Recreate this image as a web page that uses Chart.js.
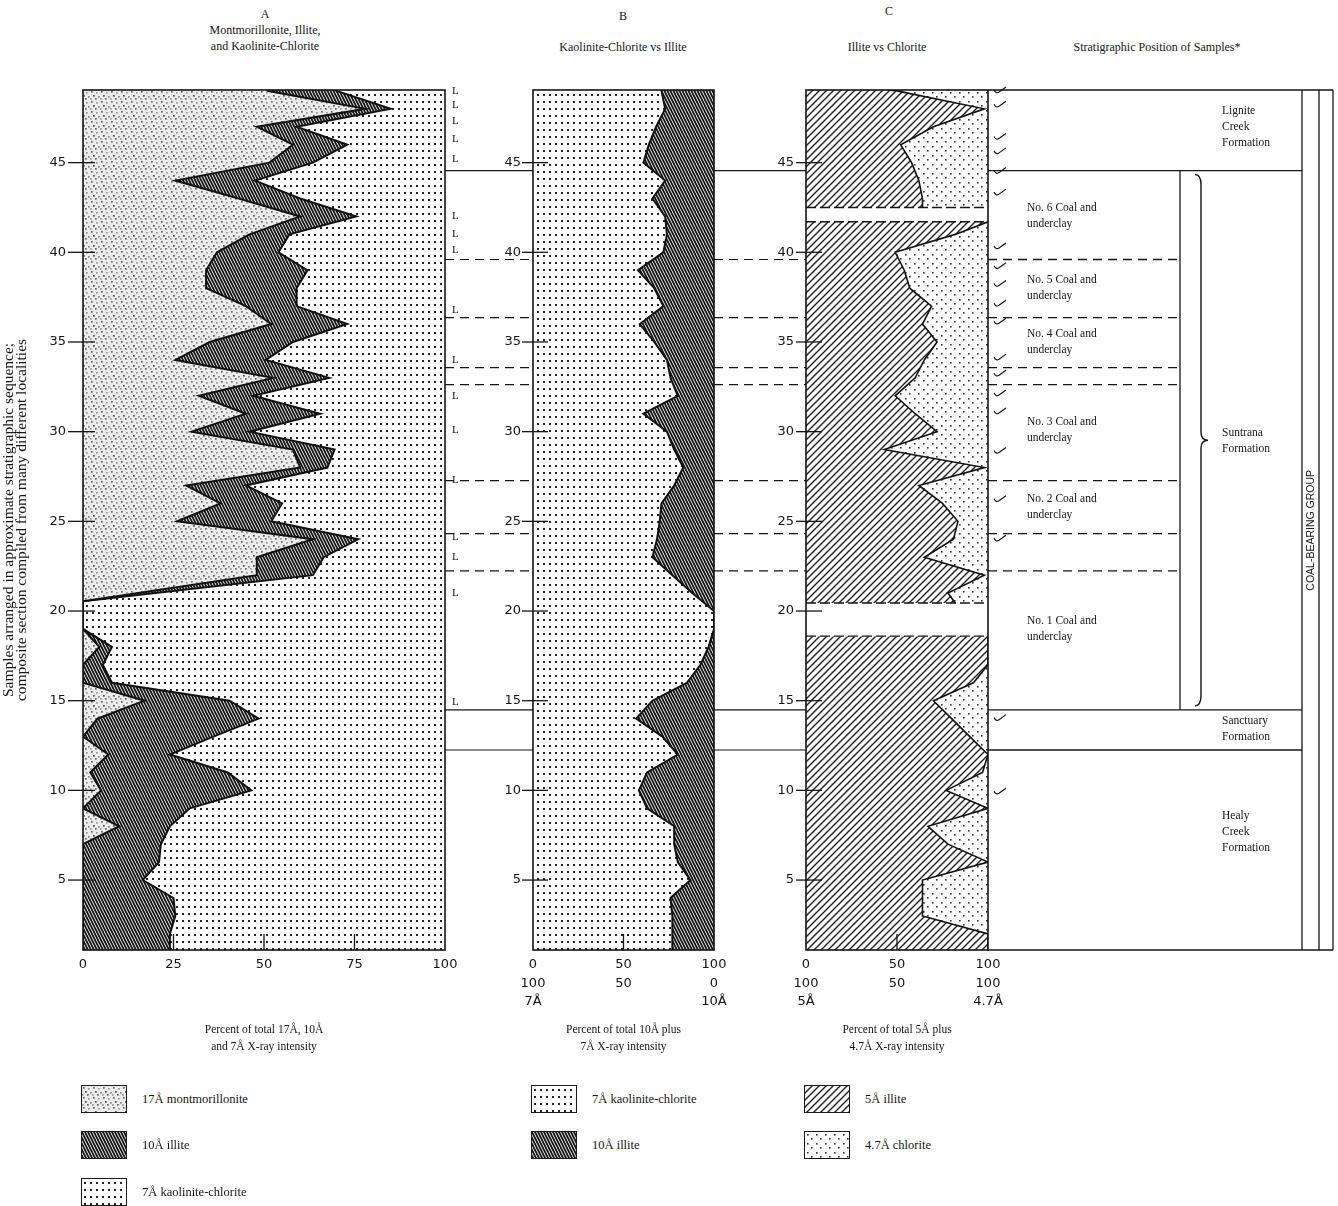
<!DOCTYPE html>
<html>
<head>
<meta charset="utf-8">
<title>Clay minerals vs stratigraphic position of samples</title>
<script src="https://cdn.jsdelivr.net/npm/chart.js@4.4.1/dist/chart.umd.min.js"></script>
<style>
  html, body { margin:0; padding:0; background:#fff; }
  body { width:1338px; height:1206px; position:relative; overflow:hidden; font-family:"Liberation Serif", serif; color:#151515; }
  .cv { position:absolute; top:0; }
  .ttl { position:absolute; transform:translateX(-50%); text-align:center; font-size:12px; line-height:16px; white-space:nowrap; }
  .leg { position:absolute; height:30px; display:flex; align-items:center; font-size:12.5px; white-space:nowrap; }
  .leg canvas { border:1.5px solid #1a1a1a; margin-right:15px; display:block; }
</style>
</head>
<body>
<div class="ttl" style="left:265px;top:6px">A<br>Montmorillonite, Illite,<br>and Kaolinite-Chlorite</div>
<div class="ttl" style="left:623px;top:8px">B</div>
<div class="ttl" style="left:623px;top:39px">Kaolinite-Chlorite vs Illite</div>
<div class="ttl" style="left:889px;top:3px">C</div>
<div class="ttl" style="left:887px;top:39px">Illite vs Chlorite</div>
<div class="ttl" style="left:1157px;top:39px">Stratigraphic Position of Samples*</div>

<div class="leg" style="left:81px;top:1084px"><canvas id="lg1" width="44" height="26"></canvas><span>17Å montmorillonite</span></div>
<div class="leg" style="left:81px;top:1130px"><canvas id="lg2" width="44" height="26"></canvas><span>10Å illite</span></div>
<div class="leg" style="left:81px;top:1177px"><canvas id="lg3" width="44" height="26"></canvas><span>7Å kaolinite-chlorite</span></div>
<div class="leg" style="left:531px;top:1084px"><canvas id="lg4" width="44" height="26"></canvas><span>7Å kaolinite-chlorite</span></div>
<div class="leg" style="left:531px;top:1130px"><canvas id="lg5" width="44" height="26"></canvas><span>10Å illite</span></div>
<div class="leg" style="left:804px;top:1084px"><canvas id="lg6" width="44" height="26"></canvas><span>5Å illite</span></div>
<div class="leg" style="left:804px;top:1130px"><canvas id="lg7" width="44" height="26"></canvas><span>4.7Å chlorite</span></div>

<script>
// ---------------- DATA ----------------
const Y_MIN = 1.1, Y_MAX = 49.05;
const yTicks = [5, 10, 15, 20, 25, 30, 35, 40, 45];
const xTicksA = [0, 25, 50, 75, 100];
const xTicksBC = [0, 50, 100];
const xLabelsA = ['0', '25', '50', '75', '100'];
const xLabelsB = [['0', '100', '7Å'], ['50', '50', ''], ['100', '0', '10Å']];
const xLabelsC = [['0', '100', '5Å'], ['50', '50', ''], ['100', '100', '4.7Å']];

// Panel A: percent of total 17Å, 10Å and 7Å intensity (kaolinite-chlorite = remainder)
const samplesA = [1.1, 2, 3, 4, 5, 6, 7, 8, 9, 10,
                  11, 12, 13, 14, 15, 16, 17, 18, 19, 20,
                  20.55,
                  22, 23, 24, 25, 26, 27, 28, 29, 30, 31,
                  32, 33, 34, 35, 36, 37, 38, 39, 40, 41,
                  42, 43, 44, 45, 46, 47, 48, 49,
                  49.05];
const montA =   [0, 0, 0, 0, 0, 0, 0, 10, 0, 5,
                 2, 7, 0, 4, 17, 0, 0, 4.5, 0, 0,
                 0,
                 48, 48, 63.5, 26, 38, 28.5, 60, 58, 30, 45,
                 32, 52.5, 25.5, 35, 52, 45, 34, 34, 37, 46,
                 60, 43, 25.5, 51.5, 58, 48, 78, 51,
                 51];
const illiteA = [24, 24, 25.5, 25, 16.5, 21, 21.5, 14, 29.5, 41.5,
                 38, 17, 36, 44.5, 23.5, 8, 5.5, 3.5, 0, 0,
                 0,
                 15.5, 18.5, 12.5, 26, 17, 16.5, 7.5, 11.5, 16, 20.5,
                 15, 15.5, 25, 23, 21, 14, 25, 28, 17, 11,
                 15.5, 17, 22, 12, 15, 11, 7, 19,
                 19];

// Panel B: kaolinite-chlorite percent of 10Å + 7Å (illite = remainder)
const samplesB = [1.1, 2, 3, 4, 5, 6, 7, 8, 9, 10,
                  11, 12, 13, 14, 15, 16, 17, 18, 19, 20,
                  21, 22, 23, 24, 25, 26, 27, 28, 29, 30,
                  31, 32, 33, 34, 35, 36, 37, 38, 39, 40,
                  41, 42, 43, 44, 45, 46, 47, 48, 49,
                  49.05];
const kaolB = [77, 77, 77, 76, 87, 80, 78, 78, 63, 58.5,
               63, 80, 71.5, 57, 66, 85, 92.5, 97, 100, 100,
               88, 77, 66, 68.5, 70, 71, 78, 83, 78, 74,
               61, 80, 76, 74, 67, 59, 72, 67, 58, 72,
               74, 73, 66, 73, 61, 64, 68, 73, 71,
               71.5];

// Panel C: illite (5Å) percent of 5Å + 4.7Å (chlorite = remainder); null = no samples
const samplesC = [1.1, 2, 3, 4, 5, 6, 7, 8, 9, 10,
                  11, 12, 13, 14, 15, 16, 17, 18,
                  18.6, 19.5, 20.45,
                  21, 22, 23, 24, 25, 26, 27, 28, 29, 30,
                  31, 32, 33, 34, 35, 36, 37, 38, 39, 40, 41,
                  41.7, 42.1, 42.5,
                  43, 44, 45, 46, 47, 48, 49,
                  49.05];
const illiteC = [100, 100, 64, 64, 64, 100, 78, 67, 100, 77,
                 97, 100, 90, 80, 70, 92, 100, 100,
                 100, null, 82,
                 78, 98, 65, 81, 83.5, 75, 62, 98, 43, 72,
                 60, 49, 60, 65, 72, 64, 69, 57, 54, 49, 82,
                 100, null, 64,
                 64, 62, 58, 52, 70, 98, 50,
                 45];
const gapEdgesC = [18.6, 20.45, 41.7, 42.5];

// Stratigraphic column
const formationBounds = [44.56, 14.49, 12.25];
const coalBounds = [39.6, 36.36, 33.57, 32.62, 27.27, 24.31, 22.24];
const suntranaRange = [44.56, 14.49];
const coalLabels = ['No. 6 Coal and', 'No. 5 Coal and', 'No. 4 Coal and', 'No. 3 Coal and', 'No. 2 Coal and', 'No. 1 Coal and'];
const coalLabelAt = [42.05, 38.0, 35.0, 30.1, 25.8, 19.0];
const formationLabels = [['Lignite', 'Creek', 'Formation'], ['Suntrana', 'Formation'], ['Sanctuary', 'Formation'], ['Healy', 'Creek', 'Formation']];
const formationLabelAt = [47.0, 29.5, 13.4, 7.7];
const groupLabel = 'COAL-BEARING GROUP';
const groupLabelAt = 24.5;
const ligniteMarks = [49, 48.2, 47.3, 46.3, 45.2, 42, 41, 40.1, 36.8, 34, 32, 30.1, 27.3, 24.1, 23, 21, 14.9];
const checkMarks = [49, 48.2, 46.4, 45.6, 44.5, 43.3, 40.3, 39.2, 38.2, 37.1, 36.1, 34.1, 33.2, 32.1, 31.1, 28.9, 26.2, 24, 14, 9.9];

// ---------------- PATTERNS ----------------
const tileCtx = document.createElement('canvas').getContext('2d');
function pattern(w, h, bg, draw) {
  const c = document.createElement('canvas'); c.width = w; c.height = h;
  const g = c.getContext('2d'); g.fillStyle = bg; g.fillRect(0, 0, w, h); draw(g);
  return tileCtx.createPattern(c, 'repeat');
}
const patMont = pattern(10, 10, '#ececec', g => {
  [[1, 1, '#666'], [6, 2, '#999'], [3, 5, '#4a4a4a'], [8, 6, '#888'], [0, 8, '#9a9a9a'], [5, 8, '#666']]
    .forEach(([x, y, c]) => { g.fillStyle = c; g.fillRect(x, y, 1.7, 1.7); });
});
const patKaol = pattern(6, 7, '#fff', g => { g.fillStyle = '#222'; g.fillRect(2, 3, 2, 2); });
const patIllite = pattern(3, 6, '#fff', g => {
  g.strokeStyle = '#111'; g.lineWidth = 1.9; g.beginPath();
  for (let c = -18; c <= 18; c += 6) { g.moveTo(-6, -12 + c); g.lineTo(9, 18 + c); }
  g.stroke();
});
const patHatch = pattern(7, 7, '#fff', g => {
  g.strokeStyle = '#1e1e1e'; g.lineWidth = 1.4; g.beginPath();
  for (let c = -7; c <= 21; c += 7) { g.moveTo(-7, c + 7); g.lineTo(14, c - 14); }
  g.stroke();
});
const patChlor = pattern(9, 9, '#fff', g => { g.fillStyle = '#333'; g.fillRect(2, 2, 1.6, 1.6); g.fillRect(6, 6, 1.6, 1.6); });

[['lg1', patMont], ['lg2', patIllite], ['lg3', patKaol], ['lg4', patKaol], ['lg5', patIllite], ['lg6', patHatch], ['lg7', patChlor]]
  .forEach(([id, p]) => { const c = document.getElementById(id); const g = c.getContext('2d'); g.fillStyle = p; g.fillRect(0, 0, c.width, c.height); });

// ---------------- HELPERS ----------------
Chart.defaults.font.family = 'DejaVu Sans';
function addCanvas(id, left, width, height) {
  const c = document.createElement('canvas'); c.id = id; c.className = 'cv';
  c.width = width; c.height = height; c.style.left = left + 'px';
  c.style.width = width + 'px'; c.style.height = height + 'px';
  document.body.appendChild(c); return c;
}
function toPoints(samples, values) { return samples.map((s, i) => ({ x: values[i], y: s })).reverse(); }
const cumA = montA.map((m, i) => m + illiteA[i]);

function yScale(width, pad, title) {
  return {
    type: 'linear', min: Y_MIN, max: Y_MAX,
    grid: { display: false, drawTicks: false }, border: { display: false },
    afterBuildTicks: s => { s.ticks = yTicks.map(v => ({ value: v })); },
    afterFit: s => { s.width = width; },
    ticks: { padding: pad, color: '#151515', font: { family: 'DejaVu Sans', size: 13 } },
    title: title || { display: false }
  };
}
function xScale(ticks, labels, titleText) {
  return {
    type: 'linear', min: 0, max: 100, position: 'bottom',
    grid: { display: false, drawTicks: false }, border: { display: false },
    afterBuildTicks: s => { s.ticks = ticks.map(v => ({ value: v })); },
    afterFit: s => { s.height = 120; },
    ticks: { padding: 6, autoSkip: false, maxRotation: 0, color: '#151515',
             font: { family: 'DejaVu Sans', size: 13, lineHeight: 1.4 }, callback: (v, i) => labels[i] },
    title: { display: true, text: titleText, color: '#151515',
             font: { family: 'Liberation Serif', size: 11.5, lineHeight: 1.45 }, padding: { top: 0, bottom: 15 } }
  };
}
function seg(ctx, x1, y1, x2, y2) { ctx.beginPath(); ctx.moveTo(x1, y1); ctx.lineTo(x2, y2); ctx.stroke(); }
function drawFrame(chart, tickOut, tickIn, innerX) {
  const { ctx, chartArea: a, scales: { x, y } } = chart;
  ctx.strokeStyle = '#151515'; ctx.setLineDash([]); ctx.lineWidth = 1.6;
  ctx.strokeRect(a.left, a.top, a.right - a.left, a.bottom - a.top);
  ctx.lineWidth = 1.3;
  yTicks.forEach(v => { const py = y.getPixelForValue(v); seg(ctx, a.left - tickOut, py, a.left + tickIn, py); });
  innerX.forEach(v => { const px = x.getPixelForValue(v); seg(ctx, px, a.bottom, px, a.bottom - 16); });
}
function drawGapLines(chart, x0, x1, dashedEnd) {
  const { ctx, scales: { y } } = chart;
  ctx.strokeStyle = '#151515'; ctx.lineWidth = 1.2; ctx.setLineDash([]);
  formationBounds.forEach(s => { const py = y.getPixelForValue(s); seg(ctx, x0, py, x1, py); });
  ctx.setLineDash([9, 6]);
  coalBounds.forEach(s => { const py = y.getPixelForValue(s); seg(ctx, x0, py, dashedEnd === undefined ? x1 : dashedEnd, py); });
  ctx.setLineDash([]);
}
const baseOptions = (padRight) => ({
  indexAxis: 'y', responsive: false, animation: false, devicePixelRatio: 1,
  layout: { padding: { top: 90, right: padRight, left: 0, bottom: 0 }, autoPadding: false },
  elements: { point: { radius: 0, hitRadius: 0, hoverRadius: 0 }, line: { tension: 0 } },
  plugins: { legend: { display: false }, tooltip: { enabled: false } }
});

// ---------------- PANEL A ----------------
const decoA = {
  id: 'decoA',
  afterDraw(chart) {
    const { ctx, chartArea: a, scales: { y } } = chart;
    ctx.save();
    drawFrame(chart, 15, 12, [25, 50, 75]);
    drawGapLines(chart, a.right, chart.width);
    ctx.fillStyle = '#151515'; ctx.font = '11px "Liberation Serif"'; ctx.textBaseline = 'middle';
    ligniteMarks.forEach(s => ctx.fillText('L', a.right + 7, y.getPixelForValue(s)));
    ctx.restore();
  }
};
const optA = baseOptions(88);
optA.scales = {
  x: xScale(xTicksA, xLabelsA, ['Percent of total 17Å, 10Å', 'and 7Å X-ray intensity']),
  y: yScale(83, 17, { display: true, color: '#151515',
    text: ['Samples arranged in approximate stratigraphic sequence;', 'composite section compiled from many different localities'],
    font: { family: 'Liberation Serif', size: 15.5, lineHeight: 0.85 }, padding: { top: 2, bottom: 0 } })
};
new Chart(addCanvas('chartA', 0, 533, 1070), {
  type: 'line',
  data: { datasets: [
    { label: '17Å montmorillonite', data: toPoints(samplesA, montA), fill: { target: { value: 0 } },
      backgroundColor: patMont, borderColor: '#111', borderWidth: 2 },
    { label: '10Å illite', data: toPoints(samplesA, cumA), fill: '-1',
      backgroundColor: patIllite, borderColor: '#111', borderWidth: 2 },
    { label: '7Å kaolinite-chlorite', data: toPoints(samplesA, cumA), fill: { target: { value: 100 } },
      backgroundColor: patKaol, borderColor: 'transparent', borderWidth: 0 }
  ] },
  options: optA,
  plugins: [decoA]
});

// ---------------- PANEL B ----------------
const decoB = {
  id: 'decoB',
  afterDraw(chart) {
    const { ctx, chartArea: a } = chart;
    ctx.save();
    drawFrame(chart, 11, 15, [50]);
    drawGapLines(chart, a.right, chart.width);
    ctx.restore();
  }
};
const optB = baseOptions(92);
optB.scales = {
  x: xScale(xTicksBC, xLabelsB, ['Percent of total 10Å plus', '7Å X-ray intensity']),
  y: yScale(88, 12)
};
new Chart(addCanvas('chartB', 445, 361, 1070), {
  type: 'line',
  data: { datasets: [
    { label: '7Å kaolinite-chlorite', data: toPoints(samplesB, kaolB), fill: { target: { value: 0 } },
      backgroundColor: patKaol, borderColor: '#111', borderWidth: 2 },
    { label: '10Å illite', data: toPoints(samplesB, kaolB), fill: { target: { value: 100 } },
      backgroundColor: patIllite, borderColor: 'transparent', borderWidth: 0 }
  ] },
  options: optB,
  plugins: [decoB]
});

// ---------------- PANEL C + STRATIGRAPHIC COLUMN ----------------
const decoC = {
  id: 'decoC',
  afterDraw(chart) {
    const { ctx, chartArea: a, scales: { y } } = chart;
    const R = a.right;
    const py = s => y.getPixelForValue(s);
    ctx.save();
    ctx.strokeStyle = '#151515'; ctx.lineWidth = 1.4; ctx.setLineDash([10, 4]);
    gapEdgesC.forEach(s => seg(ctx, a.left, py(s), R, py(s)));
    ctx.setLineDash([]);
    drawFrame(chart, 10, 16, [50]);
    ctx.lineWidth = 1.2;
    checkMarks.forEach(s => {
      const yy = py(s);
      ctx.beginPath(); ctx.moveTo(R + 6, yy - 1); ctx.quadraticCurveTo(R + 8, yy + 3, R + 11, yy + 1); ctx.lineTo(R + 18, yy - 4); ctx.stroke();
    });
    const top = py(Y_MAX), bot = py(Y_MIN);
    ctx.lineWidth = 1.3;
    seg(ctx, R, top, R + 345, top);
    seg(ctx, R, bot, R + 345, bot);
    seg(ctx, R + 345, top, R + 345, bot);
    seg(ctx, R + 314, top, R + 314, bot);
    seg(ctx, R + 331, top, R + 331, bot);
    formationBounds.forEach(s => seg(ctx, R, py(s), R + 314, py(s)));
    seg(ctx, R + 192, py(suntranaRange[0]), R + 192, py(suntranaRange[1]));
    ctx.setLineDash([9, 6]);
    coalBounds.forEach(s => seg(ctx, R, py(s), R + 192, py(s)));
    ctx.setLineDash([]);
    const bt = py(suntranaRange[0]) + 4, bb = py(suntranaRange[1]) - 4, bm = (bt + bb) / 2, bx = R + 213;
    ctx.lineWidth = 1.4; ctx.beginPath();
    ctx.moveTo(bx - 6, bt); ctx.quadraticCurveTo(bx, bt, bx, bt + 10);
    ctx.lineTo(bx, bm - 8); ctx.quadraticCurveTo(bx, bm, bx + 7, bm);
    ctx.quadraticCurveTo(bx, bm, bx, bm + 8); ctx.lineTo(bx, bb - 10);
    ctx.quadraticCurveTo(bx, bb, bx - 6, bb); ctx.stroke();
    ctx.fillStyle = '#151515'; ctx.textBaseline = 'middle'; ctx.textAlign = 'left';
    ctx.font = '11.5px "Liberation Serif"';
    coalLabels.forEach((t, i) => {
      const yy = py(coalLabelAt[i]);
      ctx.fillText(t, R + 39, yy - 8); ctx.fillText('underclay', R + 39, yy + 8);
    });
    formationLabels.forEach((lines, i) => {
      const yy = py(formationLabelAt[i]) - (lines.length - 1) * 8;
      lines.forEach((t, k) => ctx.fillText(t, R + 234, yy + k * 16));
    });
    ctx.save();
    ctx.translate(R + 323, py(groupLabelAt)); ctx.rotate(-Math.PI / 2);
    ctx.textAlign = 'center'; ctx.font = '10.5px "Liberation Sans"';
    ctx.fillText(groupLabel, 0, 0);
    ctx.restore();
    ctx.restore();
  }
};
const optC = baseOptions(350);
optC.scales = {
  x: xScale(xTicksBC, xLabelsC, ['Percent of total 5Å plus', '4.7Å X-ray intensity']),
  y: yScale(92, 12)
};
new Chart(addCanvas('chartC', 714, 624, 1070), {
  type: 'line',
  data: { datasets: [
    { label: '5Å illite', data: toPoints(samplesC, illiteC), fill: { target: { value: 0 } },
      backgroundColor: patHatch, borderColor: '#111', borderWidth: 1.6, spanGaps: false },
    { label: '4.7Å chlorite', data: toPoints(samplesC, illiteC), fill: { target: { value: 100 } },
      backgroundColor: patChlor, borderColor: 'transparent', borderWidth: 0, spanGaps: false }
  ] },
  options: optC,
  plugins: [decoC]
});
</script>
</body>
</html>
